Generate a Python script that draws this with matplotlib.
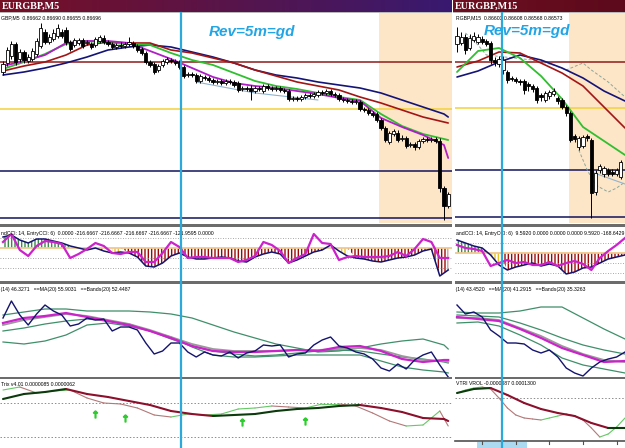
import numpy as np
import matplotlib.pyplot as plt
from matplotlib.collections import LineCollection
from matplotlib.lines import Line2D
from matplotlib.patches import Rectangle

plt.rcParams['hatch.linewidth'] = 1.0

# ---------------- EURGBP M5 (left window), prices in pips above 0.86500 ----------------
m5_open = [150, 159, 166, 178, 163, 170, 161, 163, 168, 176,
           190, 180, 183, 186, 190, 192, 180, 177, 179, 182,
           179, 178, 177, 181, 184, 180, 178, 175, 177, 176,
           178, 179, 176, 173, 169, 160, 158, 152, 157, 160,
           162, 161, 160, 155, 147, 148, 147, 141, 145, 144,
           142, 140, 141, 139, 141, 140, 139, 133, 134, 134,
           131, 134, 131, 136, 134, 133, 134, 132, 131, 123,
           124, 123, 125, 127, 126, 127, 130, 129, 131, 128,
           127, 123, 122, 121, 120, 120, 113, 112, 109, 108,
           102, 94, 80, 88, 89, 83, 84, 77, 78, 75,
           81, 83, 82, 83, 81, 34, 16]
m5_close = [158, 172, 178, 160, 170, 162, 165, 171, 181, 194,
            180, 185, 189, 194, 186, 180, 173, 182, 182, 176,
            180, 175, 183, 185, 180, 178, 175, 177, 176, 178,
            180, 176, 172, 169, 160, 157, 150, 156, 161, 163,
            161, 159, 155, 146, 148, 147, 141, 146, 144, 142,
            140, 141, 139, 141, 140, 137, 132, 134, 133, 131,
            134, 133, 136, 134, 133, 134, 132, 131, 123, 124,
            123, 125, 127, 126, 128, 130, 129, 131, 128, 127,
            123, 122, 121, 120, 121, 113, 112, 109, 107, 102,
            94, 82, 89, 91, 82, 84, 76, 78, 75, 81,
            83, 82, 83, 81, 34, 16, 28]
m5_high = [161, 175, 181, 180, 173, 172, 168, 174, 184, 199,
           193, 188, 193, 198, 193, 195, 182, 184, 184, 184,
           182, 180, 185, 187, 187, 182, 180, 179, 180, 180,
           185, 181, 178, 175, 171, 162, 160, 158, 163, 165,
           164, 163, 162, 157, 150, 150, 149, 148, 147, 146,
           144, 143, 143, 143, 143, 142, 141, 136, 136, 137,
           136, 136, 138, 138, 136, 136, 136, 134, 133, 126,
           126, 127, 129, 129, 130, 132, 132, 133, 133, 130,
           129, 125, 124, 123, 123, 122, 115, 114, 111, 110,
           104, 96, 91, 93, 92, 87, 86, 80, 80, 83,
           85, 85, 85, 85, 84, 36, 30]
m5_low = [147, 156, 163, 157, 160, 159, 159, 161, 166, 174,
          178, 178, 181, 184, 184, 177, 171, 175, 177, 174,
          177, 173, 175, 179, 178, 176, 173, 173, 174, 174,
          176, 174, 170, 167, 158, 155, 148, 150, 155, 158,
          159, 157, 153, 144, 145, 145, 139, 139, 142, 140,
          138, 138, 137, 137, 138, 135, 130, 131, 131, 122,
          129, 131, 129, 132, 131, 131, 130, 129, 121, 121,
          121, 121, 123, 124, 124, 125, 127, 127, 126, 125,
          121, 120, 119, 118, 118, 111, 110, 107, 105, 100,
          92, 80, 78, 86, 80, 81, 74, 75, 72, 73,
          79, 80, 80, 79, 30, 2, 14]

# moving averages sampled every 5 bars (last one = bar 106)
m5_ma_bars = list(range(0, 106, 5)) + [106]
m5_ma_green = [153, 160, 168, 178, 181, 179, 178, 177, 169, 162, 157, 149, 141, 136, 133, 129, 125, 122, 108, 96, 88, 83, 82]
m5_ma_magenta = [156, 161, 167, 179, 181, 181, 179, 171, 163, 154, 145, 139, 136, 134, 131, 128, 124, 121, 104, 95, 87, 77, 64]
m5_ma_red = [151, 156, 160, 167, 177, 180, 179, 179, 172, 169, 164, 159, 152, 146, 140, 136, 132, 125, 119, 112, 105, 100, 99]
m5_ma_blue = [147, 150, 154, 159, 165, 172, 175, 177, 175, 170, 165, 159, 152, 147, 144, 140, 137, 134, 129, 122, 115, 108, 105]
m5_chan_bars = [46, 60, 75]
m5_chan = [140, 129, 122]
m5_levels = [160, 113, 51, 4]

# CCI sampled every 2 bars
m5_cci_bars = list(range(0, 107, 2))
m5_cci = [110, 130, 80, 50, 90, 90, 70, 50, 20, 0, -20, 0, -30, -50, -40, -50, -90, -180, -190, -150,
          -80, -50, -90, -110, -110, -100, -90, -100, -130, -140, -90, -60, -40, -60, -150, -120, -80, -40,
          -20, 30, -30, -80, -100, -110, -130, -140, -120, -100, -90, -70, -30, -10, -280, -220]
m5_cci_fast = [60, 140, -20, -80, 20, 70, 60, 40, -100, -60, -10, 50, 20, -50, -60, -40, -40, -140, -140, -50,
               60, 10, -100, -90, -90, -100, -100, -100, -140, -120, -80, 60, 30, -30, -150, -100, -60, 140,
               50, 40, -120, -90, -80, -90, -90, -90, -80, -40, -80, -10, 90, 60, -100, -100]
m5_cci_yellow = [(26, 28), (80, 82)]

# RSI: raw every 2 bars, averages / bands every 5 bars
m5_rsi = [71, 79.5, 72.5, 67.5, 73, 77.5, 74.5, 72.5, 67, 68, 71, 70, 70.5, 64.5, 66.5, 66.5, 65, 58.5, 53, 54.5,
          58.5, 58.5, 54, 51.5, 54, 52.5, 52, 54, 51, 53.5, 54.5, 57.5, 57, 57.5, 51.5, 53, 53.5, 57.5, 60, 61.5,
          57, 56, 54, 53, 50.5, 46, 44.5, 48, 45.5, 50, 52.5, 54, 47.5, 41.5]
m5_rsi_upper = [72.5, 74, 75.5, 75.5, 74.5, 74.5, 74.5, 74, 73, 71, 67.5, 64, 61, 58, 56, 54, 54.5, 56, 58, 59.5, 60.5, 57.5, 55.5]
m5_rsi_mid = [64.5, 66, 68, 69.5, 70.5, 69.5, 68, 64.5, 60.5, 57, 54.5, 53, 52, 52.5, 53.5, 54.5, 55, 54.5, 53, 51.5, 50.5, 49, 48.5]
m5_rsi_lower = [59, 58, 59.5, 62.5, 67.5, 68.5, 67, 64.5, 61.5, 56.5, 52.5, 51.5, 51.5, 52, 52.5, 52.5, 52.5, 52.5, 49.5, 46.5, 45, 44, 43.5]
m5_rsi_ma = [68.5, 71, 72, 73.5, 71.5, 69.5, 67.5, 64.5, 61, 57, 54.5, 54, 54, 54.5, 55, 54.5, 56.5, 57, 54.5, 50.5, 49, 50, 50]
m5_rsi_band = [67.5, 70, 71.5, 73, 72, 70, 68, 65, 61.5, 58, 55.5, 54.5, 54.5, 54.5, 55, 55, 55.5, 56, 55, 52, 50, 49.5, 49]

# TRIX (x1e-7)
m5_trix_sig = [105, 130, 140, 155, 130, 115, 95, 75, 45, 30, 20, 25, 30, 45, 55, 60, 70, 75, 60, 40, 10, 5, -5]
m5_trix_bars = list(range(0, 105, 4)) + [106]
m5_trix = [150, 165, 135, 145, 150, 110, 85, 80, 60, 25, 15, 30, 25, 30, 55, 60, 70, 65, 60, 80, 80, 70, 35, -5, -30, -25, 45, -30]
m5_arrow_bars = [22, 29, 57, 72]
m5_arrow_vals = [30, 10, -10, -5]
m5_rev_bar = 42.4
m5_session_bar = 89.5

# ---------------- EURGBP M15 (right window) ----------------
m15_open = [178, 179, 185, 174, 182, 180, 183, 181, 179, 162, 158, 152, 150, 144, 143, 141, 141, 138, 136, 134,
            127, 122, 126, 128, 124, 122, 115, 109, 86, 75, 76, 86, 82, 30, 52, 48, 52, 50, 48, 45]
m15_close = [186, 185, 172, 184, 186, 185, 180, 178, 162, 160, 163, 162, 142, 143, 141, 140, 132, 136, 133, 122,
             125, 129, 130, 131, 121, 115, 109, 82, 83, 84, 85, 84, 29, 49, 56, 54, 48, 48, 52, 60]
m15_high = [195, 190, 188, 188, 190, 188, 186, 183, 181, 165, 166, 166, 152, 146, 145, 143, 143, 140, 138, 136,
            129, 131, 132, 134, 126, 124, 117, 111, 88, 86, 87, 88, 84, 52, 58, 56, 54, 53, 54, 62]
m15_low = [170, 177, 168, 172, 180, 178, 178, 176, 158, 156, 155, 148, 139, 141, 139, 137, 128, 131, 130, 119,
           121, 120, 123, 126, 118, 113, 106, 80, 80, 72, 74, 81, 4, 27, 49, 45, 46, 46, 46, 43]
m15_ma_bars = list(range(0, 41, 5))
m15_ma_green = [150, 171, 174, 164, 146, 123, 95, 81, 67]
m15_ma_red = [155, 161, 170, 169, 159, 149, 136, 115, 94]
m15_ma_blue = [145, 151, 160, 167, 162, 154, 144, 131, 121]
m15_env_up_bars = [2, 5, 7, 18, 23, 26, 30, 32, 36, 40]
m15_env_up = [189, 177, 167, 162, 157, 152, 159, 152, 140, 125]
m15_env_dn_bars = [29, 31, 33, 36, 38, 40]
m15_env_dn = [72, 52, 37, 30, 34, 40]
m15_chan_bars = [32, 40]
m15_chan = [50, 38]
m15_levels = [160, 114, 52, 5]

m15_cci_bars = list(range(0, 41, 2))
m15_cci = [130, 100, 70, 50, -20, -120, -170, -140, -120, -100, -130, -110, -130, -210, -190, -150, -140, -100, -60, -40, -20]
m15_cci_fast = [80, 50, 40, 20, -130, -100, -70, -100, -90, -120, -120, -90, -130, -100, -80, -110, -170, -50, 20, 80, 150]
m15_cci_yellow = [(8, 10)]

m15_rsi = [77.5, 73, 74, 71.5, 65, 62, 58.5, 58.5, 58, 55, 53.5, 55, 51.5, 46, 43.5, 42, 46, 49, 50.5, 51.5, 54]
m15_rsi_upper = [74, 73.5, 73.5, 74.5, 76.5, 76.5, 71, 65.5, 60.5]
m15_rsi_mid = [72.5, 72, 71.5, 68.5, 65, 61, 57.5, 55, 53]
m15_rsi_lower = [68.5, 69, 67, 62.5, 57.5, 51, 47.5, 45.5, 43.5]
m15_rsi_ma = [71.5, 70.5, 69.5, 65.5, 61, 56, 52.5, 49, 49.5]
m15_rsi_band = [71, 71, 70, 66, 62, 57, 53, 50, 49]

m15_trix_sig_bars = list(range(0, 41, 4))
m15_trix_sig = [135, 155, 160, 125, 85, 55, 35, 20, -15, -40, -40]
m15_trix = [135, 150, 160, 165, 155, 110, 60, 25, 10, 5, 0, 10, 20, 30, 20, 0, -40, -85, -70, -35, 10]
m15_tick_bars = [6, 14, 22, 30, 38]
m15_rev_bar = 10.7
m15_session_bar = 26.7

# ---------------- layout helpers (pixel based) ----------------
W, H = 625, 448
fig = plt.figure(figsize=(6.25, 4.48), dpi=100)
fig.patch.set_facecolor('white')


def fx(x):
    return x / W


def fy(y):
    return 1 - y / H


def add_ax(x0, y0, x1, y1, xlim, ylim):
    ax = fig.add_axes([fx(x0), fy(y1), (x1 - x0) / W, (y1 - y0) / H])
    ax.set_xlim(*xlim)
    ax.set_ylim(*ylim)
    ax.set_axis_off()
    return ax


def small(ax, x, y, s, **kw):
    ax.text(fx(x), fy(y), s, transform=fig.transFigure, clip_on=True, fontsize=3.7,
            family='Liberation Sans', va='center', ha='left', color='black', **kw)


def candles(ax, o, c, h, l):
    o, c, h, l = map(np.asarray, (o, c, h, l))
    x = np.arange(len(o))
    ax.vlines(x, l, h, color='black', lw=0.7, zorder=3)
    up = c >= o
    ax.bar(x[up], (c - o)[up], bottom=o[up], width=0.72, color='white', edgecolor='black', lw=0.6, zorder=4)
    ax.bar(x[~up], (o - c)[~up], bottom=c[~up], width=0.72, color='black', edgecolor='black', lw=0.6, zorder=4)


def slope_line(ax, x, y, up, dn, lw):
    x, y = np.asarray(x, float), np.asarray(y, float)
    pts = np.column_stack([x, y])
    segs = np.stack([pts[:-1], pts[1:]], axis=1)
    cols = [up if b >= a else dn for a, b in zip(y[:-1], y[1:])]
    ax.add_collection(LineCollection(segs, colors=cols, linewidths=lw, capstyle='round'))


def cci_hist(ax, bars, vals, yellow):
    bars, vals = np.asarray(bars, float), np.asarray(vals, float)
    ym = np.zeros(len(bars), bool)
    for a, b in yellow:
        ym |= (bars >= a) & (bars <= b)
    ax.fill_between(bars, 0, vals, where=(vals >= 0) & ~ym, interpolate=True, facecolor='none',
                    edgecolor='#3a8a48', hatch='|||||', lw=0)
    ax.fill_between(bars, 0, vals, where=(vals < 0) & ~ym, interpolate=True, facecolor='none',
                    edgecolor='#9e0a0a', hatch='|||||', lw=0)
    ax.fill_between(bars, 0, vals, where=ym, facecolor='none', edgecolor='#e8c51e', hatch='|||||', lw=0)


def title_bar(x0, x1, c0, c1, text):
    tax = fig.add_axes([fx(x0), fy(12), (x1 - x0) / W, 12 / H])
    tax.set_axis_off()
    t = np.linspace(0, 1, 256)[:, None]
    img = np.array(c0) + (np.array(c1) - np.array(c0)) * t
    tax.imshow(img[None, :, :], aspect='auto', extent=(0, 1, 0, 1))
    fig.text(fx(x0 + 2), fy(6.3), text, color='white', fontsize=7.3, weight='bold',
             family='Liberation Serif', va='center', ha='left')
    fig.add_artist(Rectangle((fx(x0), fy(13.2)), (x1 - x0) / W, 1.2 / H, transform=fig.transFigure,
                             color='#b8b8b8', lw=0))


rows = {'main': (13, 223.5), 'cci': (227, 281), 'rsi': (283.5, 376.5), 'trix': (378.7, 448)}
seps = [(223.5, 227), (281, 283.5), (376.5, 378.7)]


def panel(px0, px1, xlim, o, c, h, l, lines, levels, session_bar,
          cci_zero, cci_bars, cci, cci_fast, yellow, rsi_bars, rsi, rsi_s_bars, rsi_lines,
          trix_bottom, texts):
    main = add_ax(px0, 13, px1, 223.5, xlim, (-1.5, 209))
    main.axvspan(session_bar, xlim[1] + 1, color='#fde5c8', lw=0, zorder=0)
    for v, col in zip(levels, ['#8e1b1b', '#f2d23c', '#14145c', '#14145c']):
        main.axhline(v, color=col, lw=1.1, zorder=1)
    for xs, ys, col, lw, ls in lines:
        main.plot(xs, ys, color=col, lw=lw, ls=ls, zorder=2, solid_capstyle='round')
    candles(main, o, c, h, l)
    small(main, px0 + 1, 18, texts[0])

    # CCI
    cy0, cy1 = rows['cci']
    cax = add_ax(px0, cy0, px1, cy1, xlim, ((cci_zero - cy1) * 10, (cci_zero - cy0) * 10))
    for lev in (100, -100, -200):
        cax.axhline(lev, color='#8c8c8c', lw=0.6, ls=(0, (1, 2)))
    cax.axhline(0, color='#f0c890', lw=1.3)
    cci_hist(cax, cci_bars, cci, yellow)
    cax.plot(cci_bars, cci, color='#14146e', lw=1.1)
    cax.plot(cci_bars, cci_fast, color='#cc22cc', lw=1.6)
    small(cax, px0 + 1, 233, texts[1])

    # RSI with bands
    ry0, ry1 = rows['rsi']
    rax = add_ax(px0, ry0, px1, ry1, xlim, (230 - ry1 / 2, 230 - ry0 / 2))
    up, mid, lo, ma, band = rsi_lines
    for vals in (up, mid, lo):
        rax.plot(rsi_s_bars, vals, color='#3f8f6a', lw=0.9)
    rax.plot(rsi_s_bars, band, color='#9a9a9a', lw=1.3)
    rax.plot(rsi_s_bars, ma, color='#cc22cc', lw=1.6)
    rax.plot(rsi_bars, rsi, color='#14146e', lw=1.0)
    small(rax, px0 - 1, 289, texts[2])

    # TRIX window (filled by caller)
    ty0 = rows['trix'][0]
    tax = add_ax(px0, ty0, px1, trix_bottom, xlim, ((420 - trix_bottom) * 5, (420 - ty0) * 5))
    return main, cax, rax, tax


# ---------------- left window ----------------
m5_xlim = (-3 / 4.2, (452 - 3) / 4.2)
left = panel(0, 452, m5_xlim, m5_open, m5_close, m5_high, m5_low,
             [(m5_ma_bars, m5_ma_blue, '#141478', 1.2, '-'),
              (m5_ma_bars, m5_ma_red, '#a31515', 1.2, '-'),
              (m5_ma_bars, m5_ma_green, '#2fbf2f', 1.3, '-'),
              (m5_ma_bars, m5_ma_magenta, '#b01fc6', 1.3, '-'),
              (m5_chan_bars, m5_chan, '#8fb4d0', 0.8, '-')],
             m5_levels, m5_session_bar, 248, m5_cci_bars, m5_cci, m5_cci_fast, m5_cci_yellow,
             m5_cci_bars, m5_rsi, m5_ma_bars,
             (m5_rsi_upper, m5_rsi_mid, m5_rsi_lower, m5_rsi_ma, m5_rsi_band),
             448,
             ['GBP,M5  0.86662 0.86690 0.86655 0.86696',
              'ndCCI: 14, EntryCCI: 6)  0.0000 -216.6667 -216.6667 -216.6667 -216.6667 -121.9595 0.0000',
              'I(14) 46.3271   ==MA(20) 55.9031   ==Bands(20) 52.4487'])
tax = left[3]
for lev in (85, -85):
    tax.axhline(lev, color='#8c8c8c', lw=0.7, ls=(0, (1.5, 2)))
slope_line(tax, m5_trix_bars, m5_trix, '#66c866', '#b37878', 0.8)
slope_line(tax, m5_ma_bars, m5_trix_sig, '#0c3a0c', '#8c0f2c', 1.5)
tax.plot(m5_arrow_bars, m5_arrow_vals, ls='none', marker=r'$\uparrow$', color='#2ecc2e', ms=5)
small(tax, 1, 384, 'Trix v4.01 0.0000085 0.0000062')

# ---------------- right window ----------------
m15_xlim = (-2 / 4.2, (625 - 457) / 4.2)
right = panel(455, 625, m15_xlim, m15_open, m15_close, m15_high, m15_low,
              [(m15_env_up_bars, m15_env_up, '#8aa89a', 0.7, (0, (3, 2))),
               (m15_env_dn_bars, m15_env_dn, '#8aa89a', 0.7, (0, (3, 2))),
               (m15_chan_bars, m15_chan, '#8fb4d0', 0.8, '-'),
               (m15_ma_bars, m15_ma_blue, '#141478', 1.2, '-'),
               (m15_ma_bars, m15_ma_red, '#a31515', 1.2, '-'),
               (m15_ma_bars, m15_ma_green, '#2fbf2f', 1.3, '-')],
              m15_levels, m15_session_bar, 253, m15_cci_bars, m15_cci, m15_cci_fast,
              m15_cci_yellow, m15_cci_bars, m15_rsi, m15_ma_bars,
              (m15_rsi_upper, m15_rsi_mid, m15_rsi_lower, m15_rsi_ma, m15_rsi_band),
              441,
              ['RGBP,M15  0.86603 0.86608 0.86568 0.86573',
               'andCCI: 14, EntryCCI: 6)  9.5920 0.0000 0.0000 0.0000 9.5920 -168.6429',
               'I(14) 43.4520   ==MA(20) 41.2915   ==Bands(20) 35.3263'])
tax = right[3]
tax.axhline(110, color='#8c8c8c', lw=0.7, ls=(0, (1.5, 2)))
slope_line(tax, m15_cci_bars, m15_trix, '#66c866', '#b37878', 0.8)
slope_line(tax, m15_trix_sig_bars, m15_trix_sig, '#0c3a0c', '#8c0f2c', 1.5)
small(tax, 456, 383, 'VTRI VROL -0.0000087 0.0001300')

# time axis of the right window
fig.add_artist(Line2D([fx(455), fx(625)], [fy(441), fy(441)], transform=fig.transFigure, color='#505050', lw=1.2))
for b in m15_tick_bars:
    xt = fig.transFigure.inverted().transform(tax.transData.transform((b, 0)))[0]
    fig.add_artist(Line2D([xt, xt], [fy(441), fy(444)], transform=fig.transFigure, color='#505050', lw=0.8))
xr = fig.transFigure.inverted().transform(tax.transData.transform((m15_rev_bar, 0)))[0]
fig.add_artist(Rectangle((xr - 25 / W, fy(448)), 50 / W, 6.3 / H, transform=fig.transFigure,
                         color='#acd9ef', lw=0))

# separators between sub windows
for px0, px1 in ((0, 452), (455, 625)):
    for s0, s1 in seps:
        fig.add_artist(Rectangle((fx(px0), fy(s1)), (px1 - px0) / W, (s1 - s0) / H,
                                 transform=fig.transFigure, color='#6c6c6c', lw=0))

# vertical reversal markers and label
for axes, rev, x_txt, y_txt in ((left, m5_rev_bar, 252, 32), (right, m15_rev_bar, 527, 31)):
    xv = fig.transFigure.inverted().transform(axes[0].transData.transform((rev, 0)))[0]
    fig.add_artist(Line2D([xv, xv], [fy(13.5), 0], transform=fig.transFigure, color='#2aa9da', lw=1.6, zorder=5))
    fig.text(fx(x_txt), fy(y_txt), 'Rev=5m=gd', color='#22a5e5', fontsize=11, weight='bold',
             style='italic', family='Liberation Sans', ha='center', va='center')

title_bar(0, 452, (0.47, 0.06, 0.14), (0.22, 0.10, 0.44), 'EURGBP,M5')
title_bar(453, 625, (0.43, 0.06, 0.13), (0.36, 0.04, 0.11), 'EURGBP,M15')

fig.savefig('out.png', dpi=100)
